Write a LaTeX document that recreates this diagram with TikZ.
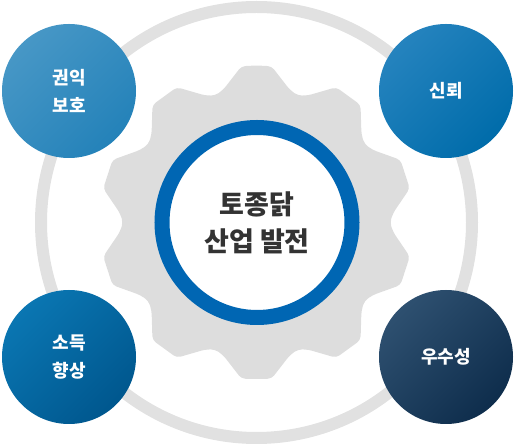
\documentclass[tikz,border=0pt]{standalone}
\usepackage{fontspec}
\newfontfamily\kr{Noto Sans CJK KR}
\definecolor{ringc}{HTML}{E1E1E1}
\definecolor{gearc}{HTML}{DDDDDD}
\definecolor{bluering}{HTML}{0066B3}
\definecolor{ctext}{HTML}{333333}
\definecolor{tlA}{HTML}{4797C6}
\definecolor{tlB}{HTML}{2482B9}
\definecolor{trA}{HTML}{2583BE}
\definecolor{trB}{HTML}{006CAA}
\definecolor{blA}{HTML}{0A76B2}
\definecolor{blB}{HTML}{00578E}
\definecolor{brA}{HTML}{2E5070}
\definecolor{brB}{HTML}{0E2D4C}
\tikzset{
  bubble/.style={circle, minimum size=134pt, inner sep=0pt,
    text=white, align=center, font=\kr\bfseries\fontsize{18}{28}\selectfont},
  hub/.style={circle, draw=bluering, line width=15pt, fill=white, minimum size=190pt,
    inner sep=0pt, text=ctext, align=center, font=\kr\bfseries\fontsize{27}{37}\selectfont}
}
\begin{document}
\begin{tikzpicture}[x=1pt,y=1pt]
\useasboundingbox (0,0) rectangle (514,444);
\coordinate (c) at (256.5,221.5);
\draw[ringc, line width=12pt] (c) circle[radius=215.5];
\begin{scope}[shift={(256.5,221.5)}]
\fill[gearc, rounded corners=4pt] (90:157)
  \foreach \a in {90,126,...,414}{
    -- (\a+5.5:157) -- (\a+14:137) -- (\a+18:133.5) -- (\a+22:137) -- (\a+30.5:157)
  } -- cycle;
\end{scope}
\node[hub] (hub) at (257,221.5) {토종닭\\산업 발전};
\node[bubble, top color=tlA, bottom color=tlB, shading angle=45] (tl) at (69,353) {권익\\보호};
\node[bubble, top color=trA, bottom color=trB, shading angle=45] (tr) at (446,353) {신뢰};
\node[bubble, top color=blA, bottom color=blB, shading angle=45] (bl) at (69,87) {소득\\향상};
\node[bubble, top color=brA, bottom color=brB, shading angle=45] (br) at (446,87) {우수성};
\end{tikzpicture}
\end{document}
